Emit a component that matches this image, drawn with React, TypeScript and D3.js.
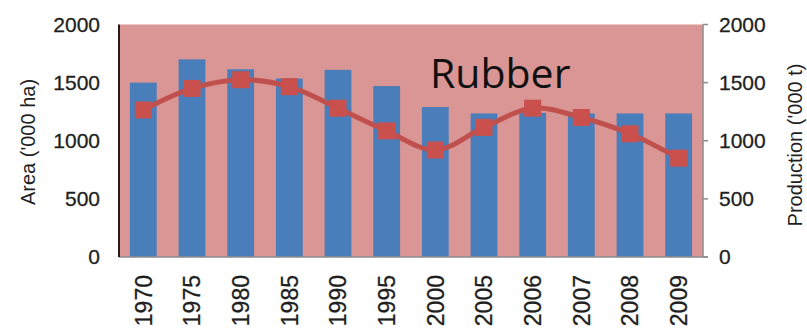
import React from "react";
import * as d3 from "d3";

const years = ["1970", "1975", "1980", "1985", "1990", "1995", "2000", "2005", "2006", "2007", "2008", "2009"];
const areaValues = [1500, 1700, 1615, 1535, 1610, 1470, 1290, 1235, 1240, 1235, 1235, 1235];
const productionValues = [1265, 1450, 1525, 1465, 1280, 1085, 920, 1115, 1280, 1200, 1060, 850];
const yTicks = [0, 500, 1000, 1500, 2000];

const W = 807;
const H = 332;
const plot = { left: 119, right: 703, top: 24.5, bottom: 257 };
const font = "'Liberation Sans', Arial, sans-serif";
const ink = "#1f1f1f";

export default function App() {
  const x = d3
    .scaleBand<string>()
    .domain(years)
    .range([plot.left, plot.right])
    .paddingInner(0.45)
    .paddingOuter(0.225);
  const yLeft = d3.scaleLinear().domain([0, 2000]).range([plot.bottom, plot.top]);
  const yRight = d3.scaleLinear().domain([0, 2000]).range([plot.bottom, plot.top]);

  const cxOf = (yr: string) => (x(yr) as number) + x.bandwidth() / 2;

  const line = d3
    .line<number>()
    .x((_, i) => cxOf(years[i]))
    .y((d) => yRight(d))
    .curve(d3.curveCatmullRom.alpha(0.5));

  const marker = 17;

  return (
    <svg
      width={W}
      height={H}
      style={{ position: "absolute", left: 0, top: 0, background: "#fff" }}
    >
      <rect
        x={plot.left}
        y={plot.top}
        width={plot.right - plot.left}
        height={plot.bottom - plot.top}
        fill="#D99694"
      />
      {years.map((yr, i) => (
        <rect
          key={yr}
          x={x(yr)}
          y={yLeft(areaValues[i])}
          width={x.bandwidth()}
          height={plot.bottom - yLeft(areaValues[i])}
          fill="#4A7EBB"
        />
      ))}
      <path d={line(productionValues) || ""} fill="none" stroke="#C0504D" strokeWidth={5} />
      {productionValues.map((v, i) => (
        <rect
          key={i}
          x={cxOf(years[i]) - marker / 2}
          y={yRight(v) - marker / 2}
          width={marker}
          height={marker}
          fill="#C9504C"
        />
      ))}
      <text x={430} y={88} fontFamily="'Open Sans', sans-serif" fontSize={41} fill="#111">
        Rubber
      </text>

      {/* axes */}
      <line x1={plot.left} x2={plot.right + 5} y1={plot.bottom} y2={plot.bottom} stroke="#8c8c8c" strokeWidth={1.5} />
      <line x1={plot.left} x2={plot.left} y1={plot.top} y2={plot.bottom} stroke="#2a1a1a" strokeWidth={2} />
      <line x1={plot.right} x2={plot.right} y1={plot.top} y2={plot.bottom} stroke="#8c8c8c" strokeWidth={1.5} />
      {yTicks.map((t) => (
        <g key={t}>
          <line x1={plot.right} x2={plot.right + 5} y1={yRight(t)} y2={yRight(t)} stroke="#8c8c8c" strokeWidth={1.5} />
          <text x={100} y={yLeft(t)} dy="0.35em" textAnchor="end" fontFamily={font} fontSize={21} fill={ink} stroke={ink} strokeWidth={0.3}>
            {t}
          </text>
          <text x={719} y={yRight(t)} dy="0.35em" textAnchor="start" fontFamily={font} fontSize={21} fill={ink} stroke={ink} strokeWidth={0.3}>
            {t}
          </text>
        </g>
      ))}
      {years.map((yr) => (
        <text
          key={yr}
          transform={`translate(${cxOf(yr)},${275}) rotate(-90)`}
          dy="0.36em"
          textAnchor="end"
          fontFamily={font}
          fontSize={23}
          fill={ink}
          stroke={ink}
          strokeWidth={0.3}
        >
          {yr}
        </text>
      ))}
      <text
        transform={`translate(28,142) rotate(-90)`}
        dy="0.35em"
        textAnchor="middle"
        fontFamily={font}
        fontSize={20}
        fill={ink}
      >
        Area ('000 ha)
      </text>
      <text
        transform={`translate(795,145) rotate(-90)`}
        dy="0.35em"
        textAnchor="middle"
        fontFamily={font}
        fontSize={20}
        fill={ink}
      >
        Production ('000 t)
      </text>
    </svg>
  );
}
